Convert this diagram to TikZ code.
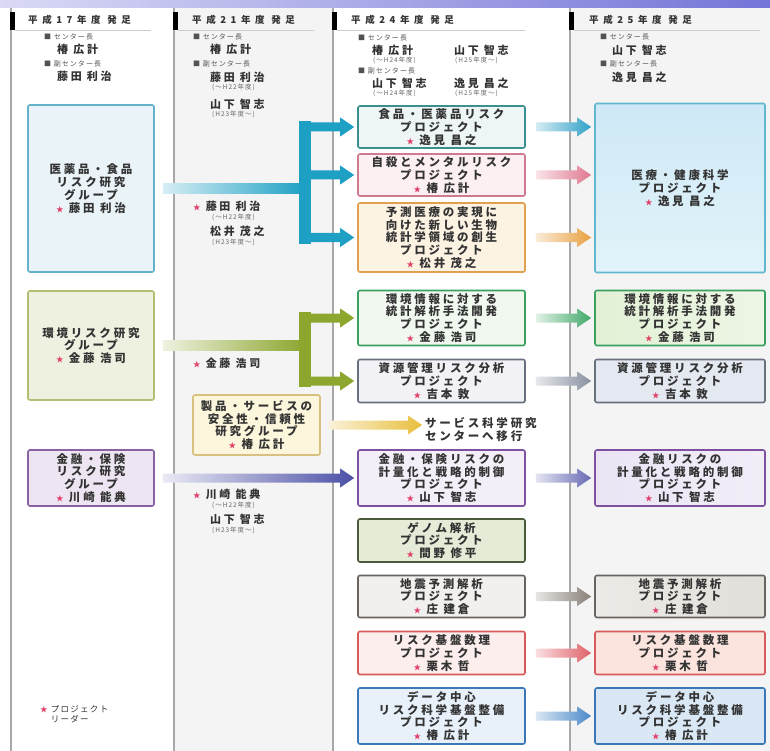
\documentclass[tikz,border=0pt]{standalone}
\usepackage{fontspec}
\setmainfont{Noto Sans CJK JP}
\newfontfamily\jpwide{Noto Sans CJK JP}[LetterSpace=24]
\newfontfamily\jpmid{Noto Sans CJK JP}[LetterSpace=15]
\newfontfamily\jphead{Noto Sans CJK JP}[LetterSpace=48]
\usetikzlibrary{calc}

% palette
\definecolor{txt}{HTML}{333333}
\definecolor{starc}{HTML}{E0406A}
\definecolor{lavL}{HTML}{DADAF6}
\definecolor{lavR}{HTML}{7474D8}
\definecolor{colbg}{HTML}{F4F4F4}
\definecolor{sepline}{HTML}{A8A8A8}
% group / project colours
\definecolor{tealc}{HTML}{1EA0C4}
\definecolor{olive}{HTML}{8CA62E}
\definecolor{yel}{HTML}{E8BE3C}
\definecolor{indig}{HTML}{4C50A6}
\definecolor{aLine}{HTML}{62B2CA}\definecolor{aFill}{HTML}{EAF3F8}
\definecolor{bLine}{HTML}{B0C070}\definecolor{bFill}{HTML}{EEF0E0}
\definecolor{cLine}{HTML}{8A62A2}\definecolor{cFill}{HTML}{EDE6F2}
\definecolor{dLine}{HTML}{D8C080}\definecolor{dFill}{HTML}{FCF6DC}
\definecolor{p1Line}{HTML}{3A9090}\definecolor{p1Fill}{HTML}{EEF5F5}
\definecolor{p2Line}{HTML}{D07A90}\definecolor{p2Fill}{HTML}{FDF0F2}
\definecolor{p3Line}{HTML}{E0A050}\definecolor{p3Fill}{HTML}{FDF3E3}
\definecolor{p4Line}{HTML}{3AA060}\definecolor{p4Fill}{HTML}{F0F8F0}
\definecolor{p5Line}{HTML}{687080}\definecolor{p5Fill}{HTML}{F2F2F6}
\definecolor{p6Line}{HTML}{8050A0}\definecolor{p6Fill}{HTML}{F4EEF8}
\definecolor{p7Line}{HTML}{4A5A3A}\definecolor{p7Fill}{HTML}{E4ECD8}
\definecolor{p8Line}{HTML}{6A6460}\definecolor{p8Fill}{HTML}{F2F0EE}
\definecolor{p9Line}{HTML}{D85A5A}\definecolor{p9Fill}{HTML}{FDEEEE}
\definecolor{p10Line}{HTML}{3A78B8}\definecolor{p10Fill}{HTML}{E8F0FA}
\definecolor{q1Line}{HTML}{60B8D0}
\definecolor{q1Top}{HTML}{CEE9F6}\definecolor{q1Bot}{HTML}{E2F3FA}
\definecolor{q2L}{HTML}{E2F1D6}\definecolor{q2R}{HTML}{EEF6E6}
\definecolor{q3Fill}{HTML}{E4E8F0}
\definecolor{q4L}{HTML}{EAE4F4}\definecolor{q4R}{HTML}{F2EEF8}
\definecolor{q5L}{HTML}{ECEAE6}\definecolor{q5R}{HTML}{E2DFDA}
\definecolor{q6Fill}{HTML}{FBE4DE}
\definecolor{q7Fill}{HTML}{DAE8F6}
\definecolor{ar1}{HTML}{30A0C8}
\definecolor{ar2}{HTML}{E07890}
\definecolor{ar3}{HTML}{E8A040}
\definecolor{ar4}{HTML}{40A868}
\definecolor{ar5}{HTML}{8890A0}
\definecolor{ar8}{HTML}{888078}
\definecolor{ar9}{HTML}{E06068}
\definecolor{ar10}{HTML}{4A88C8}

% leader mark: a small red star
\newcommand\lstar{{\color{starc}\fontsize{7.5}{7.5}\selectfont ★}}

% horizontal block arrow, shaded from light to full colour;
% it starts at #1 and ends just before the x of #2, at the height of #1
\newcommand{\flowarrow}[4]{%
  \path[left color=#3, right color=#4] let \p1=(#1), \p2=(#2) in
    (\x1,\y1+4.5pt) -- (\x2-17pt,\y1+4.5pt) -- (\x2-17pt,\y1+9.5pt) --
    (\x2-3pt,\y1) -- (\x2-17pt,\y1-9.5pt) -- (\x2-17pt,\y1-4.5pt) --
    (\x1,\y1-4.5pt) -- cycle;}

\tikzset{
  boxtext/.style={font=\jpwide\bfseries\fontsize{11.5}{12.8}\selectfont,
    text=txt, align=center},
  grp/.style={boxtext, draw=#1, line width=1.6pt, rounded corners=2pt, inner sep=0pt},
  hdr/.style={font=\jphead\bfseries\fontsize{9.5}{10}\selectfont, anchor=west,
    inner sep=0pt, text=txt},
  role/.style={font=\jpmid\fontsize{7}{8}\selectfont, anchor=west, inner sep=0pt,
    text=txt!85},
  person/.style={font=\jpwide\bfseries\fontsize{11}{12}\selectfont, anchor=west,
    inner sep=0pt, text=txt},
  term/.style={font=\jpmid\fontsize{6.5}{7}\selectfont, anchor=west, inner sep=0pt,
    text=txt!75},
  colw/.style={minimum width=126pt},
  prj/.style={minimum width=167pt},
  nxt/.style={minimum width=170pt},
}

\begin{document}
\begin{tikzpicture}[x=1pt,y=-1pt]
\useasboundingbox (0,0) rectangle (770,751);
\fill[white] (0,0) rectangle (770,751);

% banner and column backgrounds
\shade[left color=lavL, right color=lavR] (0,0) rectangle (770,8);
\fill[colbg] (174,8) rectangle (333,751);
\fill[colbg] (570,8) rectangle (770,751);
\foreach \cx in {11,174,333,570}
  \draw[sepline, line width=1.2pt] (\cx,8) -- (\cx,751);

% column headings
\foreach \cx/\len in {11/140,174/140,333/192,570/190}{
  \fill[black] (\cx-1,12) rectangle (\cx+4,30);
  \draw[black!20, line width=0.6pt] (\cx+4,30) -- (\cx+\len,30);
}
\node[hdr] (h1) at (28,20) {平成17年度 発足};
\node[hdr] (h2) at (192,20) {平成21年度 発足};
\node[hdr] (h3) at (351,20) {平成24年度 発足};
\node[hdr] (h4) at (589,20) {平成25年度 発足};

% directors, first column
\node[role] (r1a) at (44,37) {■ センター長};
\node[person] (n1a) at (57,49) {椿 広計};
\node[role] (r1b) at (44,64) {■ 副センター長};
\node[person] (n1b) at (57,76) {藤田 利治};

% directors, second column
\node[role] (r2a) at (193,37) {■ センター長};
\node[person] (n2a) at (210,49) {椿 広計};
\node[role] (r2b) at (193,64) {■ 副センター長};
\node[person] (n2b) at (210,77) {藤田 利治};
\node[term] (t2b) at (212,87) {(〜H22年度)};
\node[person] (n2c) at (210,104) {山下 智志};
\node[term] (t2c) at (212,114) {(H23年度〜)};

% directors, third column
\node[role] (r3a) at (358,38) {■ センター長};
\node[person] (n3a) at (372,50) {椿 広計};
\node[term] (t3a) at (373,60) {(〜H24年度)};
\node[person] (n3b) at (454,50) {山下 智志};
\node[term] (t3b) at (455,60) {(H25年度〜)};
\node[role] (r3b) at (358,71) {■ 副センター長};
\node[person] (n3c) at (372,83) {山下 智志};
\node[term] (t3c) at (373,93) {(〜H24年度)};
\node[person] (n3d) at (454,83) {逸見 昌之};
\node[term] (t3d) at (455,93) {(H25年度〜)};

% directors, fourth column
\node[role] (r4a) at (600,37) {■ センター長};
\node[person] (n4a) at (612,50) {山下 智志};
\node[role] (r4b) at (600,64) {■ 副センター長};
\node[person] (n4b) at (612,77) {逸見 昌之};

% research groups (first column)
\node[grp=aLine, fill=aFill, colw, minimum height=167pt] (ga) at (91,188.5)
  {医薬品・食品\\リスク研究\\グループ\\\lstar\ 藤田 利治};
\node[grp=bLine, fill=bFill, colw, minimum height=109pt] (gb) at (91,345.5)
  {環境リスク研究\\グループ\\\lstar\ 金藤 浩司};
\node[grp=cLine, fill=cFill, colw, minimum height=56pt] (gc) at (91,478)
  {金融・保険\\リスク研究\\グループ\\\lstar\ 川崎 能典};

% legend
\node[font=\jpmid\fontsize{8.5}{10}\selectfont, text=txt, align=left, anchor=north west,
  inner sep=0pt] (legend) at (40,705) {\lstar\ プロジェクト\\\phantom{\lstar\ }リーダー};

% second column
\node[person] (l2a) at (193,206) {\lstar\ 藤田 利治};
\node[term] (l2at) at (212,217) {(〜H22年度)};
\node[person] (l2b) at (210,231) {松井 茂之};
\node[term] (l2bt) at (212,242) {(H23年度〜)};
\node[person] (l2c) at (193,363) {\lstar\ 金藤 浩司};
\node[grp=dLine, fill=dFill, minimum width=127pt, minimum height=60pt] (gd) at (256.5,425)
  {製品・サービスの\\安全性・信頼性\\研究グループ\\\lstar\ 椿 広計};
\node[person] (l2d) at (193,494) {\lstar\ 川崎 能典};
\node[term] (l2dt) at (212,505) {(〜H22年度)};
\node[person] (l2e) at (210,519) {山下 智志};
\node[term] (l2et) at (212,530) {(H23年度〜)};

% projects of the third column
\node[grp=p1Line, fill=p1Fill, prj, minimum height=42pt] (p1) at (441.5,127)
  {食品・医薬品リスク\\プロジェクト\\\lstar\ 逸見 昌之};
\node[grp=p2Line, fill=p2Fill, prj, minimum height=42pt] (p2) at (441.5,175)
  {自殺とメンタルリスク\\プロジェクト\\\lstar\ 椿 広計};
\node[grp=p3Line, fill=p3Fill, prj, minimum height=69pt] (p3) at (441.5,237.5)
  {予測医療の実現に\\向けた新しい生物\\統計学領域の創生\\プロジェクト\\\lstar\ 松井 茂之};
\node[grp=p4Line, fill=p4Fill, prj, minimum height=55pt] (p4) at (441.5,318)
  {環境情報に対する\\統計解析手法開発\\プロジェクト\\\lstar\ 金藤 浩司};
\node[grp=p5Line, fill=p5Fill, prj, minimum height=43pt] (p5) at (441.5,381)
  {資源管理リスク分析\\プロジェクト\\\lstar\ 吉本 敦};
\node[boxtext, font=\jpwide\bfseries\fontsize{11.5}{13}\selectfont, align=left,
  anchor=west, inner sep=0pt] (svc) at (425,430) {サービス科学研究\\センターへ移行};
\node[grp=p6Line, fill=p6Fill, prj, minimum height=56pt] (p6) at (441.5,478)
  {金融・保険リスクの\\計量化と戦略的制御\\プロジェクト\\\lstar\ 山下 智志};
\node[grp=p7Line, fill=p7Fill, prj, minimum height=43pt] (p7) at (441.5,540.5)
  {ゲノム解析\\プロジェクト\\\lstar\ 間野 修平};
\node[grp=p8Line, fill=p8Fill, prj, minimum height=42pt] (p8) at (441.5,596.5)
  {地震予測解析\\プロジェクト\\\lstar\ 庄 建倉};
\node[grp=p9Line, fill=p9Fill, prj, minimum height=43pt] (p9) at (441.5,653)
  {リスク基盤数理\\プロジェクト\\\lstar\ 栗木 哲};
\node[grp=p10Line, fill=p10Fill, prj, minimum height=56pt] (p10) at (441.5,716)
  {データ中心\\リスク科学基盤整備\\プロジェクト\\\lstar\ 椿 広計};

% projects of the fourth column
\node[grp=q1Line, top color=q1Top, bottom color=q1Bot, nxt, minimum height=169pt] (q1) at (680,188)
  {医療・健康科学\\プロジェクト\\\lstar\ 逸見 昌之};
\node[grp=p4Line, left color=q2L, right color=q2R, nxt, minimum height=55pt] (q2) at (680,318)
  {環境情報に対する\\統計解析手法開発\\プロジェクト\\\lstar\ 金藤 浩司};
\node[grp=p5Line, fill=q3Fill, nxt, minimum height=43pt] (q3) at (680,381)
  {資源管理リスク分析\\プロジェクト\\\lstar\ 吉本 敦};
\node[grp=p6Line, left color=q4L, right color=q4R, nxt, minimum height=56pt] (q4) at (680,478)
  {金融リスクの\\計量化と戦略的制御\\プロジェクト\\\lstar\ 山下 智志};
\node[grp=p8Line, left color=q5L, right color=q5R, nxt, minimum height=42pt] (q5) at (680,596.5)
  {地震予測解析\\プロジェクト\\\lstar\ 庄 建倉};
\node[grp=p9Line, fill=q6Fill, nxt, minimum height=43pt] (q6) at (680,653)
  {リスク基盤数理\\プロジェクト\\\lstar\ 栗木 哲};
\node[grp=p10Line, fill=q7Fill, nxt, minimum height=56pt] (q7) at (680,716)
  {データ中心\\リスク科学基盤整備\\プロジェクト\\\lstar\ 椿 広計};

% branching connector: food and medicine group
\coordinate (tj) at (305,188.5);
\coordinate (tt) at (tj |- p1.west);
\coordinate (tm) at (tj |- p2.west);
\coordinate (tb) at (tj |- p3.west);
\coordinate (ts) at ($(ga.east)+(8,0)$);
\path[left color=tealc!18, right color=tealc] let \p1=(ts), \p2=(tj) in
  (\x1,\y1+5pt) rectangle (\x2,\y1-5pt);
\draw[tealc, line width=12pt, line cap=rect] (tt) -- (tb);
\flowarrow{tt}{p1.west}{tealc}{tealc}
\flowarrow{tm}{p2.west}{tealc}{tealc}
\flowarrow{tb}{p3.west}{tealc}{tealc}

% branching connector: environment group
\coordinate (oj) at (305,345.5);
\coordinate (ot) at (oj |- p4.west);
\coordinate (ob) at (oj |- p5.west);
\coordinate (os) at ($(gb.east)+(8,0)$);
\path[left color=olive!15, right color=olive] let \p1=(os), \p2=(oj) in
  (\x1,\y1+5pt) rectangle (\x2,\y1-5pt);
\draw[olive, line width=12pt, line cap=rect] (ot) -- (ob);
\flowarrow{ot}{p4.west}{olive}{olive}
\flowarrow{ob}{p5.west}{olive}{olive}

% single connectors out of the second column
\coordinate (ys) at ($(gd.east)+(8,0)$);
\flowarrow{ys}{svc.west}{yel!20}{yel}
\coordinate (cs) at ($(gc.east)+(8,0)$);
\flowarrow{cs}{p6.west}{indig!12}{indig}

% third to fourth column
\coordinate (a1) at ($(p1.east)+(10,0)$);
\coordinate (a2) at ($(p2.east)+(10,0)$);
\coordinate (a3) at ($(p3.east)+(10,0)$);
\coordinate (a4) at ($(p4.east)+(10,0)$);
\coordinate (a5) at ($(p5.east)+(10,0)$);
\coordinate (a6) at ($(p6.east)+(10,0)$);
\coordinate (a8) at ($(p8.east)+(10,0)$);
\coordinate (a9) at ($(p9.east)+(10,0)$);
\coordinate (a10) at ($(p10.east)+(10,0)$);
\flowarrow{a1}{q1.west}{ar1!20}{ar1}
\flowarrow{a2}{q1.west}{ar2!20}{ar2}
\flowarrow{a3}{q1.west}{ar3!20}{ar3}
\flowarrow{a4}{q2.west}{ar4!15}{ar4}
\flowarrow{a5}{q3.west}{ar5!20}{ar5}
\flowarrow{a6}{q4.west}{indig!15}{indig!85}
\flowarrow{a8}{q5.west}{ar8!20}{ar8}
\flowarrow{a9}{q6.west}{ar9!20}{ar9}
\flowarrow{a10}{q7.west}{ar10!20}{ar10}
\end{tikzpicture}
\end{document}
